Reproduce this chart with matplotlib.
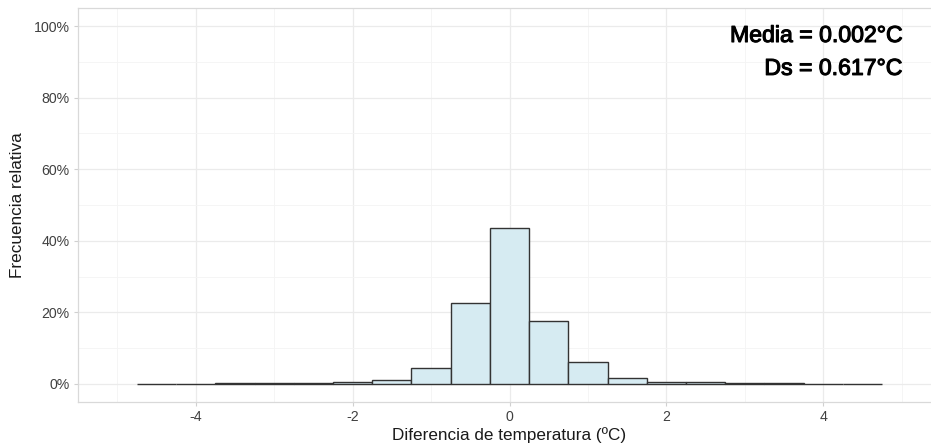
import matplotlib.pyplot as plt
import matplotlib.patheffects as pe
from matplotlib.ticker import FuncFormatter, MultipleLocator

# centros de las clases (ancho 0.5) y frecuencia relativa
centros = [-4.5, -4.0, -3.5, -3.0, -2.5, -2.0, -1.5, -1.0, -0.5, 0.0,
           0.5, 1.0, 1.5, 2.0, 2.5, 3.0, 3.5, 4.0, 4.5]
frecuencia = [0.0004, 0.0006, 0.0012, 0.0022, 0.0035, 0.0058, 0.0118, 0.0455, 0.2265, 0.4355,
              0.1765, 0.0600, 0.0165, 0.0058, 0.0042, 0.0016, 0.0010, 0.0007, 0.0004]
media = 0.002
ds = 0.617

plt.rcParams['font.family'] = ['Liberation Sans', 'DejaVu Sans']

fig = plt.figure(figsize=(9.31, 4.44), dpi=100)
ax = fig.add_axes([78 / 931, 42.3 / 444, 863 / 931, 393.4 / 444])

ax.bar(centros, frecuencia, width=0.5, align='center',
       facecolor='#d6ebf2', edgecolor='#333333', linewidth=1.0, zorder=3)

ax.set_xlim(-5.5, 5.5)
ax.set_ylim(-0.05, 1.05)
ax.xaxis.set_major_locator(MultipleLocator(2))
ax.xaxis.set_minor_locator(MultipleLocator(1))
ax.yaxis.set_major_locator(MultipleLocator(0.2))
ax.yaxis.set_minor_locator(MultipleLocator(0.1))
ax.yaxis.set_major_formatter(FuncFormatter(lambda v, p: f"{v * 100:.0f}%"))
ax.xaxis.set_major_formatter(FuncFormatter(lambda v, p: f"{v:.0f}"))

ax.grid(which='major', color='#ebebeb', linewidth=0.9, zorder=0)
ax.grid(which='minor', color='#f4f4f4', linewidth=0.6, zorder=0)
ax.set_axisbelow(True)

for s in ax.spines.values():
    s.set_color('#d9d9d9')
    s.set_linewidth(0.9)
ax.spines['right'].set_visible(False)  # queda fuera del lienzo en el original

ax.tick_params(which='major', length=3, color='#d0d0d0', labelsize=10.2,
               labelcolor='#404040', pad=3)
ax.tick_params(which='minor', length=0)

ax.set_xlabel('Diferencia de temperatura (ºC)', fontsize=12.3, color='#1a1a1a', labelpad=2)
ax.set_ylabel('Frecuencia relativa', fontsize=12.3, color='#1a1a1a', labelpad=6)

# trazo fino para dar algo mas de grosor, como en el original
grueso = [pe.withStroke(linewidth=0.8, foreground='black')]
ax.text(5.0, 0.974, f"Media = {media:.3f}°C", ha='right', va='center',
        fontsize=16.6, color='black', path_effects=grueso)
ax.text(5.0, 0.882, f"Ds = {ds:.3f}°C", ha='right', va='center',
        fontsize=16.6, color='black', path_effects=grueso)

fig.savefig('out.png', dpi=100)
